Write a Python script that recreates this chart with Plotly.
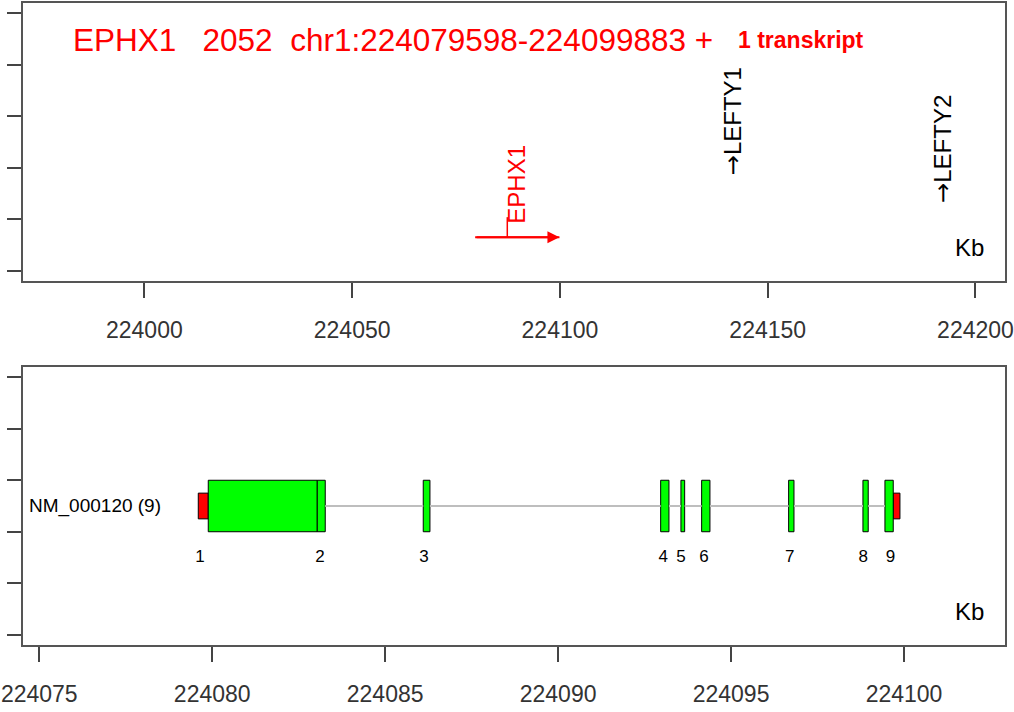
import plotly.graph_objects as go

# ---------------- data ----------------
# overview panel (Kb)
overview_ticks = [224000, 224050, 224100, 224150, 224200]
overview_tick_labels = ["224000", "224050", "224100", "224150", "224200"]
overview_range = [223970.8, 224207.1]

focus_gene = "EPHX1"
focus_start = 224079.598
focus_end = 224099.883
focus_row = 0.65

neighbour_names = ["LEFTY1", "LEFTY2"]
neighbour_pos = [224141.7, 224192.2]
neighbour_row = [1.82, 1.28]

title_main = "EPHX1\u00a0\u00a0\u00a02052\u00a0\u00a0chr1:224079598-224099883\u00a0+"
title_tail = "1 transkript"

# transcript panel (Kb)
detail_ticks = [224075, 224080, 224085, 224090, 224095, 224100]
detail_tick_labels = ["224075", "224080", "224085", "224090", "224095", "224100"]
detail_range = [224074.53, 224102.92]

transcript_name = "NM_000120 (9)"
transcript_row = 2.5
cds_start = [224079.886, 224083.037, 224086.101, 224092.965, 224093.551,
             224094.150, 224096.665, 224098.813, 224099.449]
cds_end = [224083.037, 224083.268, 224086.295, 224093.205, 224093.659,
           224094.390, 224096.819, 224098.966, 224099.689]
utr_start = [224079.597, 224099.689]
utr_end = [224079.886, 224099.883]
exon_numbers = ["1", "2", "3", "4", "5", "6", "7", "8", "9"]
exon_label_x = [224079.646, 224083.115, 224086.122, 224093.040, 224093.550,
                224094.216, 224096.700, 224098.820, 224099.610]
exon_label_row = 1.5

row_ticks = [0, 1, 2, 3, 4, 5]
row_range = [-0.2, 5.2]

# ---------------- figure ----------------
FONT = "Liberation Sans, Arial, sans-serif"
fig = go.Figure()

# overview: EPHX1 arrow body
fig.add_trace(go.Scatter(x=[focus_start, focus_end], y=[focus_row, focus_row],
                         mode="lines", line=dict(color="#FF0000", width=2),
                         xaxis="x", yaxis="y", hoverinfo="skip", showlegend=False))

# introns drawn between consecutive exons
ix, iy = [], []
for i in range(len(cds_start) - 1):
    ix += [cds_end[i], cds_start[i + 1], None]
    iy += [transcript_row, transcript_row, None]
fig.add_trace(go.Scatter(x=ix, y=iy, mode="lines",
                         line=dict(color="#BEBEBE", width=2),
                         xaxis="x2", yaxis="y2", hoverinfo="skip", showlegend=False))

# UTRs
fig.add_trace(go.Bar(orientation="h", base=utr_start,
                     x=[e - s for s, e in zip(utr_start, utr_end)],
                     y=[transcript_row] * len(utr_start), width=0.5,
                     marker=dict(color="#FF0000", line=dict(color="#000000", width=1)),
                     xaxis="x2", yaxis="y2", hoverinfo="skip", showlegend=False))
# coding exons
fig.add_trace(go.Bar(orientation="h", base=cds_start,
                     x=[e - s for s, e in zip(cds_start, cds_end)],
                     y=[transcript_row] * len(cds_start), width=1.0,
                     marker=dict(color="#00FF00", line=dict(color="#000000", width=1)),
                     xaxis="x2", yaxis="y2", hoverinfo="skip", showlegend=False))

# exon numbers
fig.add_trace(go.Scatter(x=exon_label_x, y=[exon_label_row] * len(exon_label_x),
                         mode="text", text=exon_numbers,
                         textfont=dict(family=FONT, size=17, color="#000000"),
                         xaxis="x2", yaxis="y2", hoverinfo="skip", showlegend=False))

annotations = []
shapes = []
# arrow head
annotations.append(dict(x=focus_end, y=focus_row, ax=focus_start, ay=focus_row,
                        xref="x", yref="y", axref="x", ayref="y", text="",
                        showarrow=True, arrowhead=2, arrowsize=1.2, arrowwidth=2,
                        arrowcolor="#FF0000"))
mid = (focus_start + focus_end) / 2
shapes.append(dict(type="line", xref="x", yref="y", xsizemode="pixel", xanchor=mid,
                   x0=-10, x1=-10, y0=focus_row, y1=focus_row + 0.39,
                   line=dict(color="#FF0000", width=1.5)))
annotations.append(dict(x=mid, y=focus_row + 0.22, xref="x", yref="y", text=focus_gene,
                        textangle=-90, showarrow=False, xanchor="center", yanchor="bottom",
                        xshift=-1, font=dict(family=FONT, size=24, color="#FF0000")))
ARROW = "<span style='font-family:DejaVu Sans'>\u2192</span>"
for name, px, py in zip(neighbour_names, neighbour_pos, neighbour_row):
    annotations.append(dict(x=px, y=py, xref="x", yref="y", text=ARROW + name,
                            textangle=-90, showarrow=False, xanchor="center",
                            yanchor="bottom", font=dict(family=FONT, size=24, color="#000000")))

annotations.append(dict(x=0.049, y=0.868, xref="x domain", yref="y domain",
                        text=title_main, showarrow=False, xanchor="left", yanchor="middle",
                        font=dict(family=FONT, size=31.5, color="#FF0000")))
annotations.append(dict(x=0.858, y=0.868, xref="x domain", yref="y domain",
                        text="<b>" + title_tail + "</b>", showarrow=False, xanchor="right",
                        yanchor="middle", font=dict(family=FONT, size=23, color="#FF0000")))

for xr, yr in (("x domain", "y domain"), ("x2 domain", "y2 domain")):
    annotations.append(dict(x=1, y=0.119, xref=xr, yref=yr, text="Kb", showarrow=False,
                            xanchor="right", yanchor="middle", xshift=-19,
                            font=dict(family=FONT, size=24, color="#000000")))

annotations.append(dict(x=0, y=transcript_row, xref="x2 domain", yref="y2", text=transcript_name,
                        showarrow=False, xanchor="left", yanchor="middle", xshift=4,
                        font=dict(family=FONT, size=19, color="#000000")))

axis_common = dict(showgrid=False, zeroline=False, showline=True, mirror=True,
                   linecolor="#555555", linewidth=2, ticks="outside",
                   tickcolor="#444444", tickwidth=1.5, automargin=False)

fig.update_layout(
    width=1014, height=712,
    margin=dict(l=23, r=9, t=3, b=67),
    paper_bgcolor="white", plot_bgcolor="white",
    showlegend=False, barmode="overlay",
    xaxis=dict(domain=[0, 1], anchor="y", range=overview_range,
               tickvals=overview_ticks, ticktext=overview_tick_labels,
               ticklen=15, ticklabelstandoff=12, ticklabeloverflow="allow",
               tickfont=dict(family=FONT, size=23, color="#333333"), **axis_common),
    yaxis=dict(domain=[0.567, 1], anchor="x", range=row_range, tickvals=row_ticks,
               showticklabels=False, ticklen=14, **axis_common),
    xaxis2=dict(domain=[0, 1], anchor="y2", range=detail_range,
                tickvals=detail_ticks, ticktext=detail_tick_labels,
                ticklen=15, ticklabelstandoff=12, ticklabeloverflow="allow",
                tickfont=dict(family=FONT, size=23, color="#333333"), **axis_common),
    yaxis2=dict(domain=[0, 0.433], anchor="x2", range=row_range, tickvals=row_ticks,
                showticklabels=False, ticklen=14, **axis_common),
    annotations=annotations, shapes=shapes,
)

fig.write_html("out.html", config={"displayModeBar": False},
               post_script="document.body.style.margin='0';document.body.style.overflow='hidden';")
